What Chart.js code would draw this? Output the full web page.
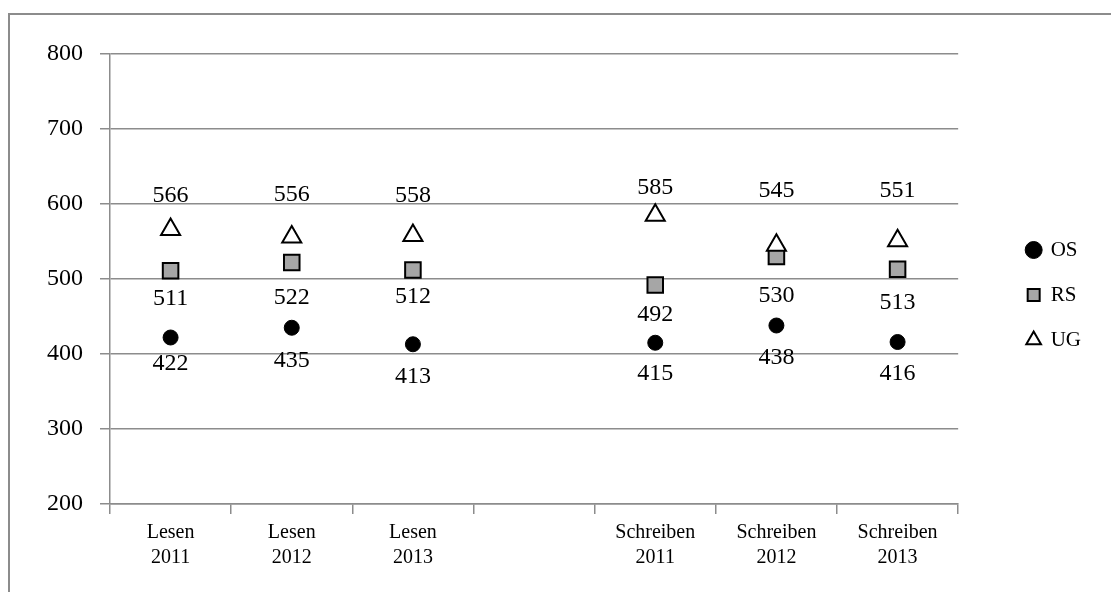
<!DOCTYPE html>
<html>
<head>
<meta charset="utf-8">
<script src="https://cdn.jsdelivr.net/npm/chart.js@4/dist/chart.umd.min.js"></script>
<style>
  html, body { margin: 0; padding: 0; background: #fff; overflow: hidden; }
  #rahmen { position: absolute; left: 8px; top: 13px; width: 1200px; height: 700px; border: 2px solid #8c8c8c; }
  #wrap { position: absolute; left: 0; top: 0; width: 1111px; height: 592px; }
</style>
</head>
<body>
<div id="rahmen"></div>
<div id="wrap"><canvas id="grafico"></canvas></div>
<script>
// Kategorien (leere Spalte trennt Lesen und Schreiben)
const kategorien = [['Lesen', '2011'], ['Lesen', '2012'], ['Lesen', '2013'], '',
  ['Schreiben', '2011'], ['Schreiben', '2012'], ['Schreiben', '2013']];

// Werte je Schulart
const werteOS = [422, 435, 413, null, 415, 438, 416];
const werteRS = [511, 522, 512, null, 492, 530, 513];
const werteUG = [566, 556, 558, null, 585, 545, 551];

const serif = '"Liberation Serif", "DejaVu Serif", serif';

// Zahlen neben den Punkten (Abstand in px je Punkt)
const beschriftung = {
  id: 'beschriftung',
  afterDatasetsDraw(chart, args, opts) {
    const ctx = chart.ctx;
    ctx.save();
    ctx.font = '24px ' + serif;
    ctx.fillStyle = '#000';
    ctx.textAlign = 'center';
    ctx.textBaseline = 'middle';
    chart.data.datasets.forEach((ds, i) => {
      const meta = chart.getDatasetMeta(i);
      meta.data.forEach((pt, j) => {
        const v = ds.data[j];
        if (v == null) return;
        ctx.fillText(String(v), pt.x, pt.y + opts.abstand[i][j]);
      });
    });
    ctx.restore();
  }
};

new Chart(document.getElementById('grafico'), {
  type: 'line',
  data: {
    labels: kategorien,
    datasets: [
      { label: 'OS', data: werteOS, showLine: false, order: 3,
        pointStyle: 'circle', pointRadius: 7.5, pointBorderWidth: 1,
        backgroundColor: '#000', borderColor: '#000' },
      { label: 'RS', data: werteRS, showLine: false, order: 2,
        pointStyle: 'rect', pointRadius: 11, pointBorderWidth: 2,
        backgroundColor: '#a6a6a6', borderColor: '#000' },
      { label: 'UG', data: werteUG, showLine: false, order: 1,
        pointStyle: 'triangle', pointRadius: 11, pointBorderWidth: 2,
        backgroundColor: '#fff', borderColor: '#000' }
    ]
  },
  options: {
    responsive: true,
    maintainAspectRatio: false,
    animation: false,
    events: [],
    layout: { padding: { top: 54, left: 0, right: 20, bottom: 0 } },
    scales: {
      x: {
        offset: true,
        grid: { drawOnChartArea: false, offset: true, tickLength: 10, color: '#8c8c8c', lineWidth: 1.5 },
        border: { color: '#8c8c8c', width: 1.5 },
        ticks: { color: '#000', font: { family: serif, size: 20, lineHeight: 1.25 },
          padding: 6, autoSkip: false, maxRotation: 0 },
        afterFit: s => { s.height = 88; }
      },
      y: {
        min: 200, max: 800,
        grid: { color: '#8c8c8c', lineWidth: 1.5, tickLength: 10 },
        border: { color: '#8c8c8c', width: 1.5 },
        ticks: { stepSize: 100, color: '#000', font: { family: serif, size: 24 }, padding: 17 },
        afterFit: s => { s.width = 110; }
      },
      luecke: {
        position: 'right',
        grid: { display: false },
        border: { display: false },
        ticks: { display: false },
        afterFit: s => { s.width = 45; }
      }
    },
    plugins: {
      tooltip: { enabled: false },
      legend: {
        position: 'right',
        fullSize: false,
        title: { display: true, text: ' ', font: { size: 10, lineHeight: 1 }, padding: { top: 0, bottom: 22 } },
        labels: {
          usePointStyle: true,
          boxWidth: 13,
          boxHeight: 12,
          padding: 24,
          color: '#000',
          font: { family: serif, size: 21 },
          sort: (a, b) => a.datasetIndex - b.datasetIndex
        }
      },
      beschriftung: {
        abstand: [
          [26, 33, 32, 0, 31, 32, 32],
          [28, 35, 27, 0, 30, 39, 33],
          [-34, -42, -40, 0, -28, -55, -50]
        ]
      }
    }
  },
  plugins: [beschriftung]
});
</script>
</body>
</html>
